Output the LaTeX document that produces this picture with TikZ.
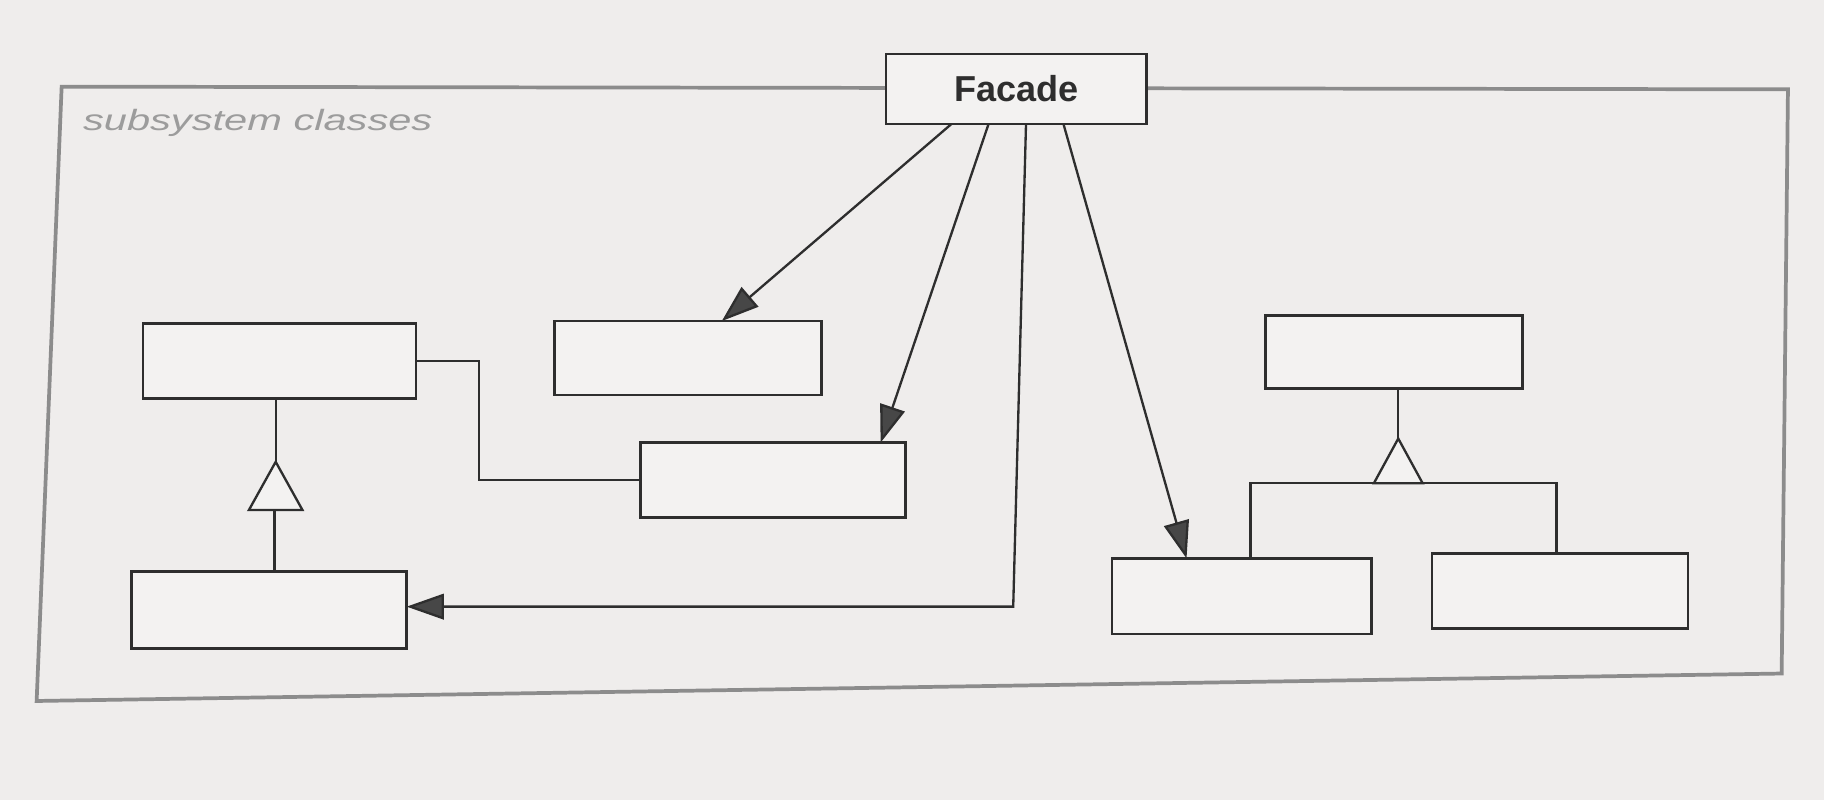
\documentclass[tikz,border=0pt]{standalone}
\usepackage{fontspec}
\setmainfont{Liberation Sans}
\usetikzlibrary{arrows.meta}
\definecolor{bg}{HTML}{EFEDEC}
\definecolor{boxfill}{HTML}{F3F2F1}
\definecolor{framegray}{HTML}{8C8C8C}
\definecolor{ink}{HTML}{2E2E2E}
\definecolor{headfill}{HTML}{474747}
\definecolor{labelgray}{HTML}{9C9C9C}
\begin{document}
\begin{tikzpicture}[x=0.5pt,y=-0.5pt,
  cls/.style={draw=ink, line width=1.2pt, fill=boxfill, inner sep=0pt, outer sep=0pt},
  conn/.style={draw=ink, line width=1pt},
  arr/.style={conn, -{Triangle[length=16pt,width=11pt,fill=headfill]}},
  frameline/.style={draw=framegray, line width=1.6pt, line join=miter},
  inhtri/.style={draw=ink, line width=1pt, fill=boxfill, line join=miter}]
% background / bounding box
\fill[bg] (0,0) rectangle (1568,688);
\useasboundingbox (0,0) rectangle (1568,688);
% subsystem frame
\draw[frameline] (53,74.5) -- (1537,76.8) -- (1531.6,579) -- (31.5,602.6) -- cycle;
\node[anchor=base west, text=labelgray, inner sep=0pt] (lbl) at (71,112.6)
  {\scalebox{1.42}[1]{\fontsize{12.6pt}{14pt}\selectfont\itshape subsystem classes}};
% classes
\node[cls, minimum width=112pt, minimum height=30.1pt,
  font=\fontsize{15.5pt}{18pt}\selectfont\bfseries, text=ink] (facade) at (873.6,76.5) {Facade};
\node[cls, minimum width=117.3pt, minimum height=32.2pt] (A) at (240.3,310.2) {};
\node[cls, minimum width=114.5pt, minimum height=31.8pt] (B) at (591.5,307.8) {};
\node[cls, minimum width=114pt, minimum height=32.1pt] (C) at (664.4,412.6) {};
\node[cls, minimum width=118.3pt, minimum height=33pt] (D) at (231.3,524.4) {};
\node[cls, minimum width=110.5pt, minimum height=31.3pt] (E) at (1198.5,302.7) {};
\node[cls, minimum width=111.5pt, minimum height=32.5pt] (F) at (1067.5,512.5) {};
\node[cls, minimum width=110pt, minimum height=32pt] (G) at (1341,508) {};
% association A -- C
\coordinate (acbend) at (411.8,310.2);
\draw[conn] (A.east) -- (acbend) |- (C.west);
% inheritance D -> A
\coordinate (tapex) at (237,397);
\coordinate (tbase) at (236,438.4);
\draw[conn] (tapex |- A.south) -- (tapex);
\draw[inhtri] (tapex) -- ++(-23,41.4) -- ++(46,0) -- cycle;
\draw[conn] (tbase) -- (tbase |- D.north);
% inheritance F,G -> E
\coordinate (tapexb) at (1202,377);
\coordinate (hl) at (1075,415.5);
\coordinate (hr) at (1338,415.5);
\draw[conn] (tapexb |- E.south) -- (tapexb);
\draw[conn] (hl |- F.north) -- (hl) -- (hr) -- (hr |- G.north);
\draw[inhtri] (tapexb) -- (1181,415.5) -- (1223,415.5) -- cycle;
% facade associations
\draw[arr] ([xshift=-27.85pt]facade.south) -- ([xshift=14.5pt]B.north);
\draw[arr] ([xshift=-11.9pt]facade.south) -- ([xshift=46.3pt]C.north);
\coordinate (dbend) at (871,521.5);
\draw[arr] ([xshift=4.2pt]facade.south) -- (dbend) -- ([yshift=1.45pt]D.east);
\draw[arr] ([xshift=20.3pt]facade.south) -- ([xshift=-23.75pt]F.north);
\end{tikzpicture}
\end{document}
